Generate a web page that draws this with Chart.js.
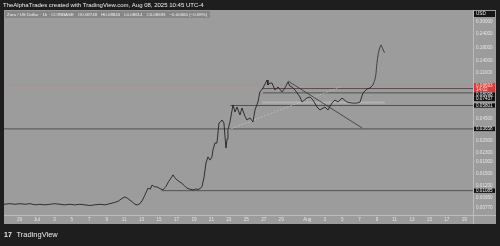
<!DOCTYPE html>
<html>
<head>
<meta charset="utf-8">
<script src="https://cdn.jsdelivr.net/npm/chart.js@4.4.1/dist/chart.umd.min.js"></script>
<style>
  html, body { margin: 0; padding: 0; background: #1e1e1e; }
  canvas { display: block; }
</style>
</head>
<body>
<canvas id="zoraChart" width="500" height="246"></canvas>
<script>
// Zora / US Dollar, 1h, COINBASE. x = days since Jul 1 2025
const priceDays = [
    -3.78, -3.1, -2.5, -1.95, -1.4, -0.8, -0.2, 0.34, 0.9, 1.49, 2.0, 2.64, 3.2, 3.78, 4.3, 4.93,
    5.5, 6.08, 6.6, 7.22, 7.8, 8.37, 8.9, 9.29, 9.75, 10.09, 10.4, 10.67, 11.0, 11.24, 11.5, 11.81,
    12.1, 12.39, 12.73, 13.0, 13.19, 13.5, 13.76, 14.1, 14.45, 14.8, 15.1, 15.4, 15.6, 15.8, 16.06,
    16.3, 16.63, 16.9, 17.2, 17.5, 17.89, 18.2, 18.46, 18.7, 18.92, 19.15, 19.38, 19.61, 19.84,
    20.07, 20.18, 20.41, 20.64, 20.87, 21.05, 21.22, 21.44, 21.67, 21.8, 21.9, 22.13, 22.48, 22.71,
    22.94, 23.28, 23.51, 23.85, 24.08, 24.43, 24.77, 25.0, 25.34, 25.57, 25.92, 26.1, 26.38, 26.49,
    26.7, 26.95, 27.29, 27.64, 28.1, 28.44, 28.78, 29.0, 29.24, 29.59, 30.16, 30.39, 30.96, 31.31,
    31.65, 32.11, 32.45, 33.03, 33.37, 33.83, 34.17, 34.52, 34.98, 35.55, 36.12, 36.7, 37.04, 37.39,
    37.84, 38.19, 38.53
];
const priceValues = [
    0.0083, 0.0084, 0.0083, 0.0084, 0.0083, 0.0084, 0.0082, 0.0083, 0.0082, 0.0083, 0.0084, 0.0083, 0.0082, 0.0083, 0.0082, 0.0083,
    0.0082, 0.0081, 0.0082, 0.0083, 0.0082, 0.0084, 0.0086, 0.0088, 0.0093, 0.0096, 0.0093, 0.0090, 0.0086, 0.0083, 0.0082, 0.0084,
    0.0090, 0.0100, 0.0114, 0.0112, 0.0121, 0.0117, 0.0117, 0.0113, 0.0110, 0.0118, 0.0130, 0.0140, 0.0148, 0.0140, 0.0134,
    0.0130, 0.0125, 0.0120, 0.0114, 0.0112, 0.0110, 0.0112, 0.0111, 0.0113, 0.0117, 0.0140, 0.0187, 0.0211, 0.0198,
    0.0211, 0.0242, 0.0277, 0.0277, 0.0411, 0.0420, 0.0436, 0.0411, 0.0251, 0.0300, 0.0358, 0.0420, 0.0586, 0.0511,
    0.0563, 0.0481, 0.0552, 0.0470, 0.0436, 0.0454, 0.0419, 0.0531, 0.0621, 0.0757, 0.0819, 0.0870, 0.0958, 0.0868,
    0.0900, 0.0903, 0.0787, 0.0835, 0.0757, 0.0819, 0.0921, 0.0850, 0.0835, 0.0787, 0.0686, 0.0621, 0.0672, 0.0686,
    0.0646, 0.0563, 0.0531, 0.0563, 0.0531, 0.0609, 0.0646, 0.0621, 0.0672, 0.0621, 0.0609, 0.0609, 0.0621, 0.0742,
    0.0803, 0.0819, 0.0869
];

const lastPrice = 0.08693;
const countdown = '14:02';

// drawn horizontal levels (price, first day)
const levelPrices = [0.08098, 0.07437, 0.05801, 0.03658, 0.01085];
const levelFrom = [25.9, 25.9, 22.2, -3.78, 14.3];

// trend lines: [day, price] pairs
const fallingLine = [[28.78, 0.0940], [37.27, 0.0373]];
const risingLine = [[21.9, 0.0358], [34.75, 0.0835]];
const zoneBand = [[25.8, 0.0615], [39.9, 0.0615]];

// projection arrow
const arrowDays = [38.53, 38.8, 38.95, 39.1, 39.3, 39.45];
const arrowValues = [0.0869, 0.1000, 0.1250, 0.1550, 0.1800, 0.1910];
const arrowHeadDays = [39.45, 39.85];
const arrowHeadValues = [0.1910, 0.1640];

const yTicks = [0.3, 0.24, 0.18, 0.14, 0.11, 0.045, 0.029, 0.023, 0.019, 0.015, 0.012, 0.0095, 0.0077];
const xTickDays = [-2, 0, 2, 4, 6, 8, 10, 12, 14, 16, 18, 20, 22, 24, 26, 28, 31, 33, 35, 37, 39, 41, 43, 45, 47, 49];
const xTickLabels = ['29', 'Jul', '3', '5', '7', '9', '11', '13', '15', '17', '19', '21', '23', '25', '27', '29',
    'Aug', '3', '5', '7', '9', '11', '13', '15', '17', '19'];

const X_MIN = -3.78, X_MAX = 50.0;
const FONT = '"Liberation Sans", Arial, sans-serif';

function pts(days, values) {
    return days.map((d, i) => ({ x: d, y: values[i] }));
}

function lineSet(data, color, width, dash, order) {
    return {
        data: data,
        borderColor: color,
        borderWidth: width,
        borderDash: dash || [],
        pointRadius: 0,
        tension: 0,
        fill: false,
        order: order
    };
}

const datasets = [];
datasets.push(lineSet(pts(priceDays, priceValues), '#222222', 0.9, null, 1));
datasets.push(lineSet([{ x: X_MIN, y: lastPrice }, { x: X_MAX, y: lastPrice }], '#c47a7a', 0.6, [1, 1], 5));
levelPrices.forEach((p, i) => {
    datasets.push(lineSet([{ x: levelFrom[i], y: p }, { x: X_MAX, y: p }], '#474747', 0.9, null, 4));
});
datasets.push(lineSet(zoneBand.map(a => ({ x: a[0], y: a[1] })), 'rgba(190,200,190,0.55)', 2.2, null, 6));
datasets.push(lineSet(fallingLine.map(a => ({ x: a[0], y: a[1] })), '#333333', 0.8, null, 3));
datasets.push(lineSet(risingLine.map(a => ({ x: a[0], y: a[1] })), '#c6c6c6', 0.7, [2, 1.5], 3));
const arrow = lineSet(pts(arrowDays, arrowValues), '#2a2a2a', 0.8, null, 2);
arrow.tension = 0.4;
datasets.push(arrow);
datasets.push(lineSet(pts(arrowHeadDays, arrowHeadValues), '#2a2a2a', 0.8, null, 2));

// frame, header, price labels
const tvFrame = {
    id: 'tvFrame',
    beforeDraw(chart) {
        const { ctx } = chart;
        ctx.save();
        ctx.fillStyle = '#1e1e1e';
        ctx.fillRect(0, 0, chart.width, chart.height);
        ctx.fillStyle = '#9c9c9c';
        ctx.fillRect(4, 10, 492, 214);
        ctx.restore();
    },
    afterDraw(chart) {
        const { ctx, chartArea, scales: { y } } = chart;
        ctx.save();
        // axis lines
        ctx.strokeStyle = '#c4c4c4';
        ctx.lineWidth = 0.8;
        ctx.beginPath();
        ctx.moveTo(4, chartArea.bottom + 0.5);
        ctx.lineTo(496, chartArea.bottom + 0.5);
        ctx.moveTo(chartArea.right + 0.5, 10);
        ctx.lineTo(chartArea.right + 0.5, 224);
        ctx.stroke();

        // header
        ctx.textBaseline = 'middle';
        ctx.fillStyle = '#eeeeee';
        ctx.font = '6px ' + FONT;
        ctx.fillText('TheAlphaTrades created with TradingView.com, Aug 08, 2025 10:45 UTC-4', 3, 5);
        ctx.fillStyle = 'rgba(60,60,60,0.22)';
        ctx.fillRect(5, 11, 205, 7);
        ctx.font = '4.4px ' + FONT;
        ctx.fillStyle = '#f0f0f0';
        const title = 'Zora / US Dollar \u00b7 1h \u00b7 COINBASE';
        ctx.fillText(title, 7, 14.5);
        const ohlc = ['O0.08748', 'H0.08840', 'L0.08614', 'C0.08693', '\u22120.00060 (\u22120.69%)'];
        let tx = Math.max(71, 7 + ctx.measureText(title).width + 4);
        ohlc.forEach(t => {
            ctx.fillText(t, tx, 14.5);
            tx += ctx.measureText(t).width + 4;
        });

        // USD box
        ctx.fillStyle = '#151515';
        ctx.fillRect(474, 11, 21, 6);
        ctx.fillStyle = '#eeeeee';
        ctx.font = '4.6px ' + FONT;
        ctx.fillText('USD', 476, 14);

        // price labels on the right axis
        const x0 = chartArea.right + 1, w = 21, h = 4.4;
        const yLast = y.getPixelForValue(lastPrice);
        const redTop = yLast - 2;
        ctx.fillStyle = '#e0393a';
        ctx.fillRect(x0, redTop, w, 9.4);
        ctx.fillStyle = '#ffdede';
        ctx.fillText(lastPrice.toFixed(5), x0 + 2, yLast + 0.3);
        ctx.fillText(countdown, x0 + 2, yLast + 4.6);
        let bottom = redTop + 9.4;
        levelPrices.forEach(p => {
            let c = y.getPixelForValue(p);
            if (c - h / 2 < bottom) c = bottom + h / 2;
            ctx.fillStyle = '#111111';
            ctx.fillRect(x0, c - h / 2, w, h);
            ctx.fillStyle = '#f2f2f2';
            ctx.fillText(p.toFixed(5), x0 + 2, c + 0.2);
            bottom = c + h / 2;
        });

        // TradingView logo
        ctx.fillStyle = '#eaeaea';
        ctx.font = 'bold 7px ' + FONT;
        ctx.fillText('17', 4, 235);
        ctx.font = '7.5px ' + FONT;
        ctx.fillText('TradingView', 16.5, 235);
        ctx.restore();
    }
};

new Chart(document.getElementById('zoraChart'), {
    type: 'line',
    data: { datasets: datasets },
    options: {
        responsive: false,
        animation: false,
        devicePixelRatio: 1,
        layout: { padding: { left: 4, top: 10, right: 4, bottom: 22 } },
        plugins: { legend: { display: false }, tooltip: { enabled: false } },
        scales: {
            x: {
                type: 'linear',
                min: X_MIN,
                max: X_MAX,
                afterBuildTicks: s => { s.ticks = xTickDays.map(v => ({ value: v })); },
                afterFit: s => { s.height = 9; },
                grid: { display: false, drawTicks: false },
                border: { display: false },
                ticks: {
                    autoSkip: false,
                    maxRotation: 0,
                    padding: 2,
                    color: '#e4e4e4',
                    font: { size: 4.6, family: FONT },
                    callback: v => xTickLabels[xTickDays.indexOf(v)]
                }
            },
            y: {
                type: 'logarithmic',
                position: 'right',
                min: 0.00672,
                max: 0.380,
                afterBuildTicks: s => { s.ticks = yTicks.map(v => ({ value: v })); },
                afterFit: s => { s.width = 23; },
                grid: { display: false, drawTicks: false },
                border: { display: false },
                ticks: {
                    padding: 3,
                    color: '#e4e4e4',
                    font: { size: 4.6, family: FONT },
                    callback: v => Number(v).toFixed(5)
                }
            }
        }
    },
    plugins: [tvFrame]
});
</script>
</body>
</html>
